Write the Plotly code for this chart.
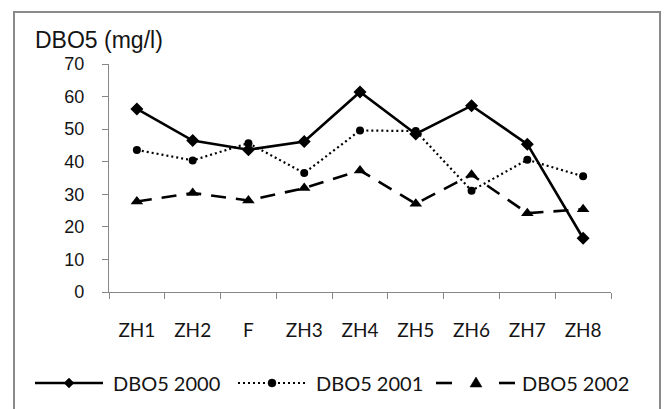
import plotly.graph_objects as go

# Sampling stations along the river
stations = ["ZH1", "ZH2", "F", "ZH3", "ZH4", "ZH5", "ZH6", "ZH7", "ZH8"]

# BOD5 concentration (mg/l) per year
dbo5_2000 = [56.2, 46.5, 43.7, 46.2, 61.4, 48.5, 57.2, 45.4, 16.5]
dbo5_2001 = [43.6, 40.4, 45.7, 36.5, 49.6, 49.4, 31.1, 40.6, 35.5]
dbo5_2002 = [27.8, 30.4, 28.1, 31.9, 37.3, 27.1, 36.0, 24.2, 25.4]

series_names = ["DBO5 2000", "DBO5 2001", "DBO5 2002"]
y_ticks = [0, 10, 20, 30, 40, 50, 60, 70]

W, H = 670, 409
L, R, T, B = 109, 59, 64, 117
pw = W - L - R
ph = H - T - B

TEXT_COL = "#141414"
AXIS_GREY = "#878787"
LABEL_FONT = "Lato, 'Open Sans', sans-serif"
NUM_FONT = "Arial, 'Liberation Sans', sans-serif"


def px_x(x):
    return (x - L) / pw


def px_y(y):
    return (H - B - y) / ph


def poly_path(points):
    pts = [f"{px_x(x):.5f},{px_y(y):.5f}" for x, y in points]
    return "M" + " L".join(pts) + " Z"


fig = go.Figure()
fig.add_trace(go.Scatter(
    x=stations, y=dbo5_2000, name=series_names[0], mode="lines+markers",
    line=dict(color="black", width=2.6),
    marker=dict(symbol="diamond", size=10, color="black"),
))
fig.add_trace(go.Scatter(
    x=stations, y=dbo5_2001, name=series_names[1], mode="lines+markers",
    line=dict(color="black", width=2.2, dash="2px,3px"),
    marker=dict(symbol="circle", size=8, color="black"),
))
fig.add_trace(go.Scatter(
    x=stations, y=dbo5_2002, name=series_names[2], mode="lines+markers",
    line=dict(color="black", width=2.6, dash="15px,10px"),
    marker=dict(symbol="triangle-up", size=11, color="black"),
))

# Legend row drawn below the axis (line sample, marker, label)
shapes = []
annotations = []
leg_y = 383


def seg(x0, x1, dash="solid", width=2.6):
    shapes.append(dict(
        type="line", xref="paper", yref="paper",
        x0=px_x(x0), x1=px_x(x1), y0=px_y(leg_y), y1=px_y(leg_y),
        line=dict(color="black", width=width, dash=dash),
    ))


def label(x, text):
    annotations.append(dict(
        text=text, xref="paper", yref="paper", x=px_x(x), y=px_y(leg_y),
        xanchor="left", yanchor="middle", showarrow=False,
        font=dict(family=LABEL_FONT, size=20, color=TEXT_COL),
    ))


# DBO5 2000: solid line with diamond
seg(35, 103)
cx = 69
shapes.append(dict(type="path", xref="paper", yref="paper",
                   path=poly_path([(cx, leg_y - 5), (cx + 5, leg_y), (cx, leg_y + 5), (cx - 5, leg_y)]),
                   fillcolor="black", line=dict(color="black", width=0.5)))
label(111, series_names[0])

# DBO5 2001: dotted line with circle
seg(238, 307, dash="2px,3px", width=2.2)
cx = 272
shapes.append(dict(type="circle", xref="paper", yref="paper",
                   x0=px_x(cx - 4), x1=px_x(cx + 4), y0=px_y(leg_y + 4), y1=px_y(leg_y - 4),
                   fillcolor="black", line=dict(color="black", width=0.5)))
label(314, series_names[1])

# DBO5 2002: dashes with triangle
seg(436, 452)
seg(499, 515)
cx = 476
shapes.append(dict(type="path", xref="paper", yref="paper",
                   path=poly_path([(cx, leg_y - 6), (cx + 6, leg_y + 4), (cx - 6, leg_y + 4)]),
                   fillcolor="black", line=dict(color="black", width=0.5)))
label(520, series_names[2])

# Axis title placed above the value axis
annotations.append(dict(
    text="DBO5 (mg/l)", xref="paper", yref="paper",
    x=px_x(33), y=px_y(40), xanchor="left", yanchor="middle",
    showarrow=False,
    font=dict(family=NUM_FONT, size=23, color=TEXT_COL),
))

# Chart frame
shapes.append(dict(
    type="rect", xref="paper", yref="paper",
    x0=px_x(14), x1=px_x(660), y0=px_y(430), y1=px_y(12),
    line=dict(color="#8a8a8a", width=2), fillcolor="rgba(0,0,0,0)",
    layer="below",
))

fig.update_layout(
    width=W, height=H,
    margin=dict(l=L, r=R, t=T, b=B),
    paper_bgcolor="white", plot_bgcolor="white",
    showlegend=False,
    xaxis=dict(
        type="category", tickson="boundaries",
        showline=True, linecolor=AXIS_GREY, linewidth=1.3,
        ticks="outside", ticklen=6, tickcolor=AXIS_GREY, tickwidth=1.3,
        showgrid=False, zeroline=False,
        ticklabelstandoff=21,
        tickfont=dict(family=LABEL_FONT, size=19, color=TEXT_COL),
        range=[-0.5, 8.5],
    ),
    yaxis=dict(
        range=[0, 70], tickvals=y_ticks,
        showline=True, linecolor=AXIS_GREY, linewidth=1.3,
        ticks="outside", ticklen=6, tickcolor=AXIS_GREY, tickwidth=1.3,
        showgrid=False, zeroline=False,
        ticklabelstandoff=14,
        tickfont=dict(family=NUM_FONT, size=18, color=TEXT_COL),
    ),
    annotations=annotations,
    shapes=shapes,
)

fig.write_html("out.html")
